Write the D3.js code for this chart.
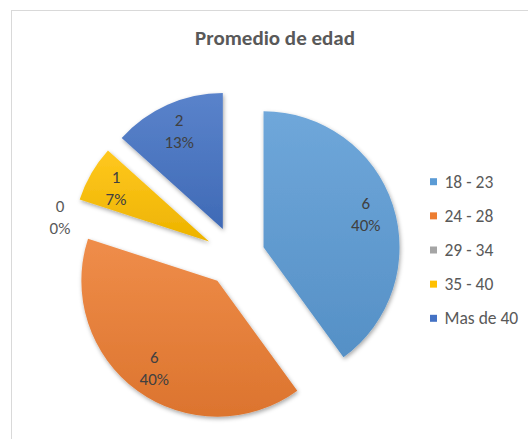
<!DOCTYPE html>
<html>
<head>
<meta charset="utf-8">
<script src="https://cdn.jsdelivr.net/npm/d3@7"></script>
<style>
  body { margin: 0; background: #fff; }
  svg { display: block; font-family: Calibri, Carlito, Lato, sans-serif; }
</style>
</head>
<body>
<svg width="528" height="439"></svg>
<script>
// data
var categories = ["18 - 23", "24 - 28", "29 - 34", "35 - 40", "Mas de 40"];
var values = [6, 6, 0, 1, 2];
var colors = ["#5B9BD5", "#ED7D31", "#A5A5A5", "#FFC000", "#4472C4"];
var title = "Promedio de edad";

var svg = d3.select("svg");

// chart frame
svg.append("rect").attr("x", 11.5).attr("y", 10.5).attr("width", 540).attr("height", 450)
    .attr("fill", "#fff").attr("stroke", "#d9d9d9");

svg.append("text").attr("x", 275).attr("y", 45).attr("text-anchor", "middle")
    .style("font-size", "21px").style("font-weight", "bold").style("fill", "#595959")
    .text(title);

var defs = svg.append("defs");
var shadow = defs.append("filter").attr("id", "shadow")
    .attr("x", "-20%").attr("y", "-20%").attr("width", "140%").attr("height", "140%");
shadow.append("feDropShadow").attr("dx", 1).attr("dy", 2).attr("stdDeviation", 2)
    .attr("flood-color", "#000").attr("flood-opacity", 0.35);

colors.forEach(function (c, i) {
    var g = defs.append("linearGradient").attr("id", "grad" + i)
        .attr("x1", 0).attr("y1", 0).attr("x2", 0).attr("y2", 1);
    g.append("stop").attr("offset", "0%").attr("stop-color", d3.interpolateRgb(c, "#fff")(0.12));
    g.append("stop").attr("offset", "100%").attr("stop-color", d3.interpolateRgb(c, "#000")(0.07));
});

var cx = 235, cy = 256.5, radius = 136, explode = 30;
var total = d3.sum(values);

var pie = d3.pie().sort(null).value(function (d) { return d; });
var arcs = pie(values);
var arc = d3.arc().innerRadius(0).outerRadius(radius);

function dir(a) { return [Math.sin(a), -Math.cos(a)]; }
function mid(d) { return (d.startAngle + d.endAngle) / 2; }

var pieG = svg.append("g").attr("transform", "translate(" + cx + "," + cy + ")");

var slices = pieG.selectAll("g.slice").data(arcs).enter().append("g")
    .attr("class", "slice")
    .attr("transform", function (d) {
        var u = dir(mid(d));
        return "translate(" + (u[0] * explode) + "," + (u[1] * explode) + ")";
    });

slices.filter(function (d) { return d.value > 0; }).append("path")
    .attr("d", arc)
    .attr("fill", function (d) { return "url(#grad" + d.index + ")"; })
    .attr("filter", "url(#shadow)");

// data labels
var lineGap = 22;
slices.each(function (d) {
    var u = dir(mid(d));
    var x, y;
    if (d.value > 0) {
        x = u[0] * radius * 0.79;
        y = u[1] * radius * 0.79;
    } else {
        x = u[0] * (radius + 18);
        y = u[1] * (radius + 18) + 17;
    }
    var t = d3.select(this).append("text")
        .attr("text-anchor", "middle")
        .style("font-size", "17px")
        .style("fill", d.value > 0 ? "#404040" : "#595959");
    t.append("tspan").attr("x", x).attr("y", y - lineGap / 2 + 6).text(d.value);
    t.append("tspan").attr("x", x).attr("y", y + lineGap / 2 + 6)
        .text(Math.round(d.value / total * 100) + "%");
});

// legend
var legendY = d3.scalePoint().domain(categories).range([181.7, 318.3]);
var legend = svg.selectAll("g.legend").data(categories).enter().append("g")
    .attr("class", "legend")
    .attr("transform", function (d) { return "translate(430," + legendY(d) + ")"; });
legend.append("rect").attr("x", 0).attr("y", -3.5).attr("width", 7).attr("height", 7)
    .attr("fill", function (d, i) { return colors[i]; });
legend.append("text").attr("x", 14.5).attr("y", 6)
    .style("font-size", "17.5px").style("fill", "#595959")
    .text(function (d) { return d; });
</script>
</body>
</html>
